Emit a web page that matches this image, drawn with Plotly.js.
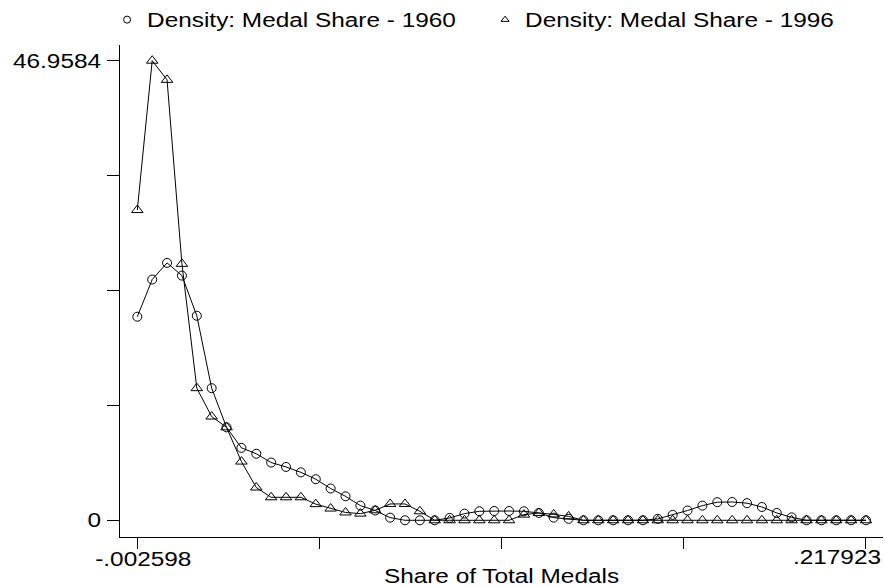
<!DOCTYPE html>
<html>
<head>
<meta charset="utf-8">
<script src="https://cdn.plot.ly/plotly-3.0.1.min.js"></script>
<style>html,body{margin:0;padding:0;background:#fff;}#chart{width:885px;height:587px;}</style>
</head>
<body>
<div id="chart"></div>
<script>
// 50 evaluation points of the kernel density, from -.002598 to .217923
const xMin = -0.002598;
const xMax = 0.217923;
const nPoints = 50;
const gridX = [];
for (let i = 0; i < nPoints; i++) gridX.push(xMin + (xMax - xMin) * i / (nPoints - 1));

const density1960 = [
  20.8, 24.6, 26.3, 25.0, 20.9, 13.5, 9.5, 7.4, 6.8, 5.9,
  5.45, 4.9, 4.2, 3.25, 2.45, 1.5, 1.0, 0.27, 0, 0,
  0, 0.24, 0.68, 0.92, 0.95, 0.95, 0.92, 0.75, 0.27, 0.15,
  0, 0, 0, 0, 0, 0.15, 0.55, 1.0, 1.5, 1.85,
  1.87, 1.75, 1.36, 0.75, 0.3, 0, 0, 0, 0, 0
];
const density1996 = [
  31.7, 46.9584, 45.0, 26.2, 13.5, 10.6, 9.5, 6.0, 3.35, 2.35,
  2.35, 2.35, 1.65, 1.2, 0.8, 0.68, 1.02, 1.67, 1.67, 0.92,
  0, 0, 0, 0, 0, 0, 0.58, 0.75, 0.6, 0.4,
  0, 0, 0, 0, 0, 0, 0, 0, 0, 0,
  0, 0, 0, 0, 0, 0, 0, 0, 0, 0
];
const seriesNames = ['Density: Medal Share - 1960', 'Density: Medal Share - 1996'];
const yTickVals = [0, 11.7396, 23.4792, 35.2188, 46.9584];
const yTickText = ['0', '', '', '', '46.9584'];
const xTickVals = [-0.002598, 0.0525323, 0.1076625, 0.1627928, 0.217923];
const xTickTextLeft = ['-.002598', '', '', '', ''];
const xTickTextRight = ['', '', '', '', '.217923'];
const xTitle = 'Share of Total Medals';

const FONT = 'Liberation Sans, Arial, Helvetica, sans-serif';
const FS = 19.5;
const xRange = [-0.007838, 0.223073];
const yRange = [-1.707, 48.563];

const traces = [
  {x: gridX, y: density1960, xaxis: 'x', yaxis: 'y', type: 'scatter', mode: 'lines+markers',
   line: {color: '#000', width: 1}, marker: {symbol: 'circle-open', size: 9, color: '#000', line: {width: 1, color: '#000'}},
   showlegend: false, hoverinfo: 'skip'},
  {x: gridX, y: density1996, xaxis: 'x2', yaxis: 'y', type: 'scatter', mode: 'lines+markers',
   line: {color: '#000', width: 1}, marker: {symbol: 'triangle-up-open', size: 10, color: '#000', line: {width: 1, color: '#000'}},
   showlegend: false, hoverinfo: 'skip'},
  {x: [null], y: [null], type: 'scatter', mode: 'markers', name: seriesNames[0],
   marker: {symbol: 'circle-open', size: 7, color: '#000', line: {width: 1, color: '#000'}}},
  {x: [null], y: [null], type: 'scatter', mode: 'markers', name: seriesNames[1],
   marker: {symbol: 'triangle-up-open', size: 7, color: '#000', line: {width: 1, color: '#000'}}}
];

const layout = {
  width: 885, height: 587,
  margin: {l: 120, r: 2, t: 45, b: 50},
  paper_bgcolor: '#fff', plot_bgcolor: '#fff',
  font: {family: FONT, size: FS, color: '#000'},
  showlegend: true,
  legend: {orientation: 'h', xref: 'container', x: 0.121, xanchor: 'left', yref: 'container', y: 0.966, yanchor: 'middle',
           font: {family: FONT, size: FS, color: '#000'}, itemwidth: 30, tracegroupgap: 0, bgcolor: 'rgba(0,0,0,0)',
           entrywidth: 333, entrywidthmode: 'pixels'},
  xaxis: {range: xRange, showgrid: false, zeroline: false, showline: true, linecolor: '#000', linewidth: 1,
          ticks: 'outside', ticklen: 11, tickwidth: 1, tickcolor: '#000', tickmode: 'array',
          tickvals: xTickVals, ticktext: xTickTextLeft, ticklabelshift: 6, ticklabelstandoff: -6,
          tickfont: {family: FONT, size: FS, color: '#000'},
          title: {text: xTitle, font: {family: FONT, size: FS, color: '#000'}, standoff: 9}},
  xaxis2: {range: xRange, overlaying: 'x', anchor: 'y', side: 'bottom', showgrid: false, zeroline: false, showline: false,
           ticks: '', tickmode: 'array', tickvals: xTickVals, ticktext: xTickTextRight, ticklabelshift: -29,
           tickfont: {family: FONT, size: FS, color: '#000'}, ticklabelstandoff: 7},
  yaxis: {range: yRange, showgrid: false, zeroline: false, showline: true, linecolor: '#000', linewidth: 1,
          ticks: 'outside', ticklen: 12, tickwidth: 1, tickcolor: '#000', tickmode: 'array',
          tickvals: yTickVals, ticktext: yTickText, ticklabelstandoff: 2,
          tickfont: {family: FONT, size: FS, color: '#000'}}
};

// The reference uses a wide Helvetica-like face: stretch texts horizontally about their anchor.
function stretchTexts() {
  document.querySelectorAll('#chart svg text').forEach(function (t) {
    if (!t.textContent) return;
    const x = parseFloat(t.getAttribute('x')) || 0;
    const prev = t.getAttribute('transform') || '';
    t.setAttribute('transform', prev + ' translate(' + x + ',0) scale(1.25,1) translate(' + (-x) + ',0)');
  });
}

Plotly.newPlot('chart', traces, layout, {displayModeBar: false, staticPlot: true}).then(stretchTexts);
</script>
</body>
</html>
